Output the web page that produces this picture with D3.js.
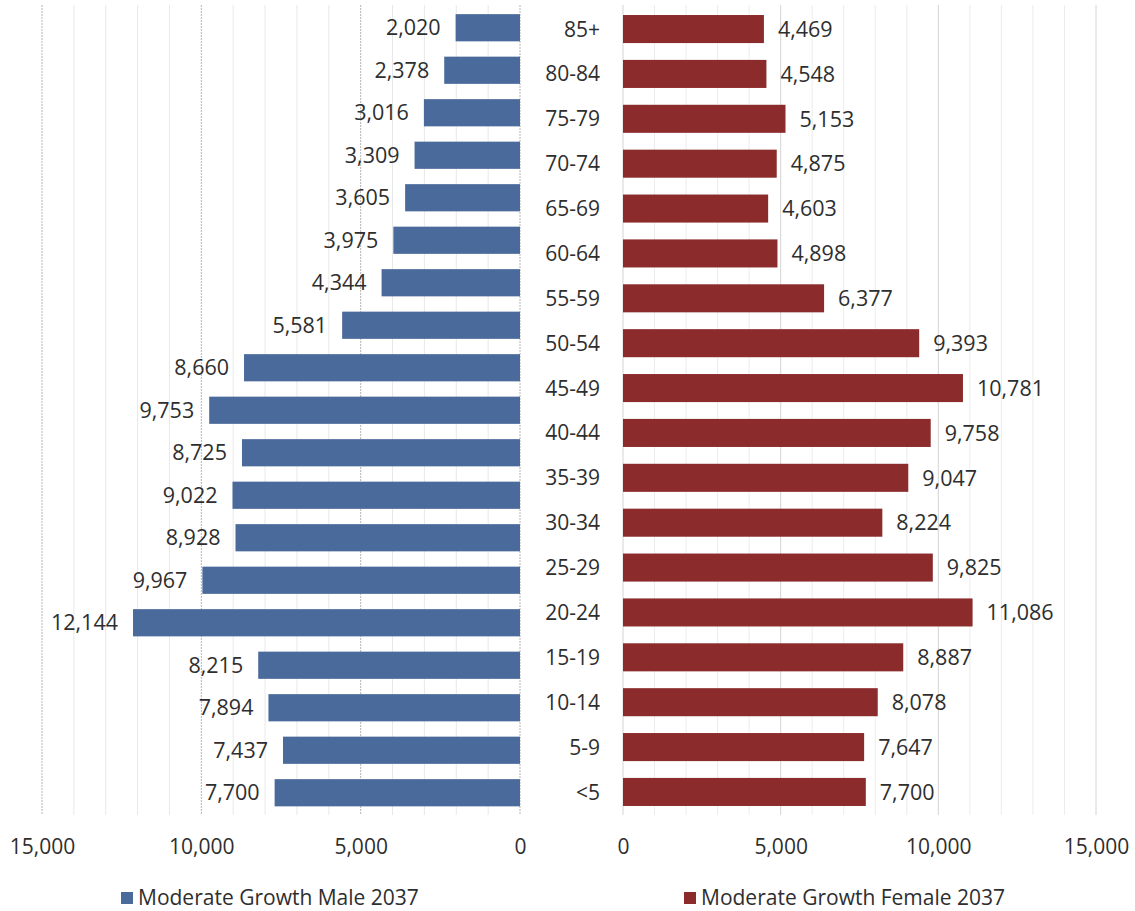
<!DOCTYPE html>
<html>
<head>
<meta charset="utf-8">
<script src="https://cdn.jsdelivr.net/npm/d3@7"></script>
<style>
html, body { margin: 0; padding: 0; background: #fff; }
svg { display: block; font-family: "Open Sans", sans-serif; }
</style>
</head>
<body>
<svg id="chart" width="1135" height="911"></svg>
<script>
// ---- data ----
const maleSeriesName = "Moderate Growth Male 2037";
const femaleSeriesName = "Moderate Growth Female 2037";
// male panel has 19 bars (top to bottom), no category labels shown
const maleValues = [2020, 2378, 3016, 3309, 3605, 3975, 4344, 5581, 8660, 9753, 8725, 9022, 8928, 9967, 12144, 8215, 7894, 7437, 7700];
// female panel categories (top to bottom)
const femaleCategories = ["85+", "80-84", "75-79", "70-74", "65-69", "60-64", "55-59", "50-54", "45-49", "40-44", "35-39", "30-34", "25-29", "20-24", "15-19", "10-14", "5-9", "<5"];
const femaleValues = [4469, 4548, 5153, 4875, 4603, 4898, 6377, 9393, 10781, 9758, 9047, 8224, 9825, 11086, 8887, 8078, 7647, 7700];
const axisMax = 15000;
const majorTicks = [0, 5000, 10000, 15000];
const minorTicks = d3.range(0, 15001, 1000);

// ---- layout ----
const svg = d3.select("#chart");
const plotTop = 5, plotBottom = 815;
const textColor = "#2e2e2e";
const maleColor = "#4a6a9c";
const femaleColor = "#8b2b2b";
const fmt = d3.format(",");

const xMale = d3.scaleLinear().domain([0, axisMax]).range([520, 42]);
const xFemale = d3.scaleLinear().domain([0, axisMax]).range([623, 1096]);

const yMale = d3.scaleBand().domain(d3.range(maleValues.length)).range([6.5, 814]).paddingInner(0.36).paddingOuter(0.18);
const yFemale = d3.scaleBand().domain(femaleCategories).range([6.5, 814.5]).paddingInner(0.375).paddingOuter(0.19);

// gridlines
const grid = svg.append("g");
grid.selectAll("line.mminor").data(minorTicks.filter(d => d % 5000 !== 0)).join("line")
  .attr("x1", d => xMale(d)).attr("x2", d => xMale(d))
  .attr("y1", plotTop).attr("y2", plotBottom)
  .attr("stroke", "#e8e8e8").attr("stroke-width", 1);
grid.selectAll("line.mmajor").data(majorTicks).join("line")
  .attr("x1", d => xMale(d)).attr("x2", d => xMale(d))
  .attr("y1", plotTop).attr("y2", plotBottom)
  .attr("stroke", "#b5b5b5").attr("stroke-width", 1).attr("stroke-dasharray", "2,1");
grid.selectAll("line.fminor").data(minorTicks.filter(d => d % 5000 !== 0)).join("line")
  .attr("x1", d => xFemale(d)).attr("x2", d => xFemale(d))
  .attr("y1", plotTop).attr("y2", plotBottom)
  .attr("stroke", "#ececec").attr("stroke-width", 1);
grid.selectAll("line.fmajor").data(majorTicks).join("line")
  .attr("x1", d => xFemale(d)).attr("x2", d => xFemale(d))
  .attr("y1", plotTop).attr("y2", plotBottom)
  .attr("stroke", "#d4d4d4").attr("stroke-width", 1);

// male bars
svg.append("g").selectAll("rect").data(maleValues).join("rect")
  .attr("x", d => xMale(d)).attr("width", d => xMale(0) - xMale(d))
  .attr("y", (d, i) => yMale(i)).attr("height", yMale.bandwidth())
  .attr("fill", maleColor);
svg.append("g").selectAll("text").data(maleValues).join("text")
  .attr("x", d => xMale(d) - 15).attr("y", (d, i) => yMale(i) + yMale.bandwidth() / 2)
  .attr("dy", "0.36em").attr("text-anchor", "end")
  .attr("font-size", 21.5).attr("fill", textColor)
  .text(d => fmt(d));

// female bars
svg.append("g").selectAll("rect").data(femaleValues).join("rect")
  .attr("x", xFemale(0)).attr("width", d => xFemale(d) - xFemale(0))
  .attr("y", (d, i) => yFemale(femaleCategories[i])).attr("height", yFemale.bandwidth())
  .attr("fill", femaleColor);
svg.append("g").selectAll("text").data(femaleValues).join("text")
  .attr("x", d => xFemale(d) + 14).attr("y", (d, i) => yFemale(femaleCategories[i]) + yFemale.bandwidth() / 2)
  .attr("dy", "0.36em").attr("text-anchor", "start")
  .attr("font-size", 21.5).attr("fill", textColor)
  .text(d => fmt(d));

// category labels
svg.append("g").selectAll("text").data(femaleCategories).join("text")
  .attr("x", 600).attr("y", d => yFemale(d) + yFemale.bandwidth() / 2)
  .attr("dy", "0.36em").attr("text-anchor", "end")
  .attr("font-size", 21).attr("fill", textColor)
  .text(d => d);

// axes (tick labels only)
const axisMale = d3.axisBottom(xMale).tickValues(majorTicks).tickFormat(fmt).tickSize(0).tickPadding(0);
const axisFemale = d3.axisBottom(xFemale).tickValues(majorTicks).tickFormat(fmt).tickSize(0).tickPadding(0);
[axisMale, axisFemale].forEach(ax => {
  const g = svg.append("g").attr("transform", "translate(0,846)").call(ax);
  g.select(".domain").remove();
  g.selectAll("text").attr("dy", "0.36em").attr("font-size", 21)
    .attr("font-family", "Open Sans, sans-serif").attr("fill", textColor);
});

// legend
const legend = [
  {name: maleSeriesName, color: maleColor, x: 121},
  {name: femaleSeriesName, color: femaleColor, x: 684}
];
const lg = svg.append("g").selectAll("g").data(legend).join("g")
  .attr("transform", d => `translate(${d.x},892)`);
lg.append("rect").attr("width", 12).attr("height", 12).attr("fill", d => d.color);
lg.append("text").attr("x", 17).attr("y", 5).attr("dy", "0.36em")
  .attr("font-size", 21).attr("fill", textColor).text(d => d.name);
</script>
</body>
</html>
